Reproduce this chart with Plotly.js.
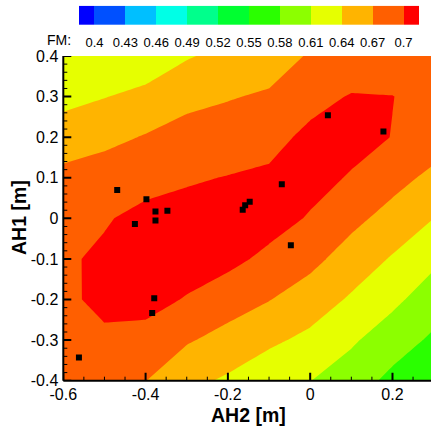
<!DOCTYPE html>
<html><head><meta charset="utf-8">
<script src="https://cdn.plot.ly/plotly-3.0.1.min.js"></script>
<style>html,body{margin:0;padding:0;background:#fff}#chart{width:431px;height:428px}</style>
</head><body><div id="chart"></div>
<script>
// Grid of AH2 (x) and AH1 (y) positions [m]
const ah2Grid = [-0.6, -0.5, -0.4, -0.3, -0.2, -0.1, 0, 0.1, 0.2, 0.3];
const ah1Grid = [-0.4, -0.3, -0.2, -0.1, 0, 0.1, 0.2, 0.3, 0.4];
// FM values, one row per AH1 value (bottom to top), columns follow ah2Grid
const fmRowM04 = [0.678, 0.683, 0.6705, 0.648, 0.6357, 0.620, 0.6105, 0.595, 0.572, 0.556];
const fmRowM03 = [0.688, 0.6955, 0.690, 0.673, 0.6597, 0.6458, 0.6327, 0.614, 0.5946, 0.5748];
const fmRowM02 = [0.695, 0.706, 0.710, 0.698, 0.6837, 0.671, 0.656, 0.6362, 0.6166, 0.595];
const fmRowM01 = [0.696, 0.705, 0.713, 0.714, 0.708, 0.693, 0.678, 0.6574, 0.6373, 0.616];
const fmRow000 = [0.690, 0.6975, 0.708, 0.710, 0.712, 0.712, 0.6975, 0.6778, 0.6596, 0.640];
const fmRowP01 = [0.678, 0.685, 0.690, 0.697, 0.701, 0.705, 0.710, 0.6975, 0.680, 0.663];
const fmRowP02 = [0.655, 0.662, 0.672, 0.682, 0.6846, 0.6904, 0.707, 0.710, 0.6993, 0.685];
const fmRowP03 = [0.631, 0.639, 0.6476, 0.661, 0.668, 0.6737, 0.690, 0.702, 0.7005, 0.690];
const fmRowP04 = [0.613, 0.616, 0.622, 0.6376, 0.648, 0.655, 0.673, 0.680, 0.685, 0.685];

// Measurement points
const pointsAH2 = [-0.562, -0.469, -0.426, -0.398, -0.376, -0.376, -0.347, -0.379, -0.384, -0.147, -0.158, -0.164, -0.069, -0.047, 0.043, 0.178];
const pointsAH1 = [-0.343, 0.070, -0.014, 0.047, 0.017, -0.005, 0.019, -0.197, -0.233, 0.041, 0.032, 0.021, 0.084, -0.066, 0.254, 0.214];

// Contour levels / legend labels
const fmLevels = [0.4, 0.43, 0.46, 0.49, 0.52, 0.55, 0.58, 0.61, 0.64, 0.67, 0.7];
const fmLevelLabels = ['0.4', '0.43', '0.46', '0.49', '0.52', '0.55', '0.58', '0.61', '0.64', '0.67', '0.7'];
const bandColors = ['#0000ff', '#0050ff', '#00bfff', '#00ffe6', '#00ff8c', '#00ff30',
                    '#2aff00', '#8cff00', '#e6ff00', '#ffb400', '#ff5f00', '#ff0000'];

// Axis ticks
const xTickVals = [-0.6, -0.4, -0.2, 0, 0.2];
const xTickText = ['-0.6', '-0.4', '-0.2', '0', '0.2'];
const yTickVals = [-0.4, -0.3, -0.2, -0.1, 0, 0.1, 0.2, 0.3, 0.4];
const yTickText = ['-0.4', '-0.3', '-0.2', '-0.1', '0', '0.1', '0.2', '0.3', '0.4'];
const xMinorStep = 0.05, yMinorStep = 0.02;

const fmZ = [fmRowM04, fmRowM03, fmRowM02, fmRowM01, fmRow000, fmRowP01, fmRowP02, fmRowP03, fmRowP04];
const step = fmLevels[1] - fmLevels[0];
const nBands = bandColors.length;
const colorscale = bandColors.map((c, i) => [i / (nBands - 1), c]);
// band centres for the legend bar (one below first level, one above the last)
const bandCentres = bandColors.map((c, i) => fmLevels[0] - step / 2 + i * step);

const FONT = 'Liberation Sans, Arial, Helvetica, sans-serif';
const W = 431, H = 428;
const pl = 63.3, pr = 431, pt = 56, pb = 380.7;
const xRange = [-0.6, 0.2936], yRange = [-0.4, 0.4];

// axis frame and tick marks as shapes
const shapes = [];
const blk = '#000';
shapes.push({type: 'line', xref: 'x domain', yref: 'y domain', x0: 0, x1: 1, y0: 0, y1: 0, line: {color: blk, width: 2}});
shapes.push({type: 'line', xref: 'x domain', yref: 'y domain', x0: 0, x1: 0, y0: 0, y1: 1, line: {color: blk, width: 2}});
const r4 = v => Math.round(v * 10000) / 10000;
for (let i = 0; ; i++) {
  const v = r4(xRange[0] + i * xMinorStep);
  if (v > xRange[1]) break;
  const major = xTickVals.some(t => Math.abs(t - v) < 1e-6);
  shapes.push({type: 'line', xref: 'x', yref: 'y', ysizemode: 'pixel', yanchor: yRange[0],
    x0: v, x1: v, y0: 0, y1: major ? 8 : 4, line: {color: blk, width: major ? 2 : 1}});
}
for (let i = 0; ; i++) {
  const v = r4(yRange[0] + i * yMinorStep);
  if (v > yRange[1] + 1e-9) break;
  const major = yTickVals.some(t => Math.abs(t - v) < 1e-6);
  shapes.push({type: 'line', xref: 'x', yref: 'y', xsizemode: 'pixel', xanchor: xRange[0],
    y0: v, y1: v, x0: 0, x1: major ? 8 : 4, line: {color: blk, width: major ? 2 : 1}});
}

const data = [
  {
    type: 'contour', x: ah2Grid, y: ah1Grid, z: fmZ,
    colorscale: colorscale, showscale: false,
    contours: {start: fmLevels[0], end: fmLevels[fmLevels.length - 1], size: step, coloring: 'fill', showlines: false},
    line: {width: 0, smoothing: 0}, hoverinfo: 'skip', xaxis: 'x', yaxis: 'y'
  },
  {
    type: 'scatter', mode: 'markers', x: pointsAH2, y: pointsAH1,
    marker: {symbol: 'square', size: 6, color: '#000'}, hoverinfo: 'skip', xaxis: 'x', yaxis: 'y'
  },
  {
    type: 'heatmap', x: bandCentres, y: [0], z: [bandCentres],
    colorscale: colorscale, zmin: bandCentres[0], zmax: bandCentres[nBands - 1],
    showscale: false, hoverinfo: 'skip', xaxis: 'x2', yaxis: 'y2'
  }
];

const layout = {
  width: W, height: H,
  margin: {l: 0, r: 0, t: 0, b: 0},
  paper_bgcolor: '#fff', plot_bgcolor: '#fff',
  showlegend: false,
  font: {family: FONT, color: '#000', size: 16},
  xaxis: {
    domain: [pl / W, pr / W], range: xRange, anchor: 'y',
    tickmode: 'array', tickvals: xTickVals, ticktext: xTickText, ticks: '',
    showline: false, showgrid: false, zeroline: false, ticklabelstandoff: 2,
    tickfont: {family: FONT, size: 16, color: '#000'}
  },
  yaxis: {
    domain: [(H - pb) / H, (H - pt) / H], range: yRange, anchor: 'x',
    tickmode: 'array', tickvals: yTickVals, ticktext: yTickText, ticks: '',
    showline: false, showgrid: false, zeroline: false, ticklabelstandoff: 4,
    tickfont: {family: FONT, size: 16, color: '#000'}
  },
  xaxis2: {
    domain: [79 / W, 419 / W], range: [bandCentres[0], bandCentres[nBands - 1]], anchor: 'y2',
    tickmode: 'array', tickvals: fmLevels, ticktext: fmLevelLabels,
    ticks: '', showline: false, showgrid: false, zeroline: false,
    ticklabelstandoff: 8, tickfont: {family: FONT, size: 13, color: '#000'}, fixedrange: true
  },
  yaxis2: {
    domain: [(H - 25) / H, (H - 5.7) / H], range: [-0.5, 0.5], anchor: 'x2',
    visible: false, fixedrange: true
  },
  shapes: shapes,
  annotations: [
    {text: 'FM:', xref: 'paper', yref: 'paper', x: 59 / W, y: (H - 40) / H, xanchor: 'center', yanchor: 'middle',
     showarrow: false, font: {family: FONT, size: 14, color: '#000'}},
    {text: '<b>AH2 [m]</b>', xref: 'paper', yref: 'paper', x: 248 / W, y: (H - 415) / H, xanchor: 'center', yanchor: 'middle',
     showarrow: false, font: {family: FONT, size: 19.5, color: '#000'}},
    {text: '<b>AH1 [m]</b>', xref: 'paper', yref: 'paper', x: 19 / W, y: (H - 218) / H, xanchor: 'center', yanchor: 'middle',
     textangle: -90, showarrow: false, font: {family: FONT, size: 19.5, color: '#000'}}
  ]
};

Plotly.newPlot('chart', data, layout, {displayModeBar: false, staticPlot: true}).catch(e => console.error(e));
</script>
</body></html>
